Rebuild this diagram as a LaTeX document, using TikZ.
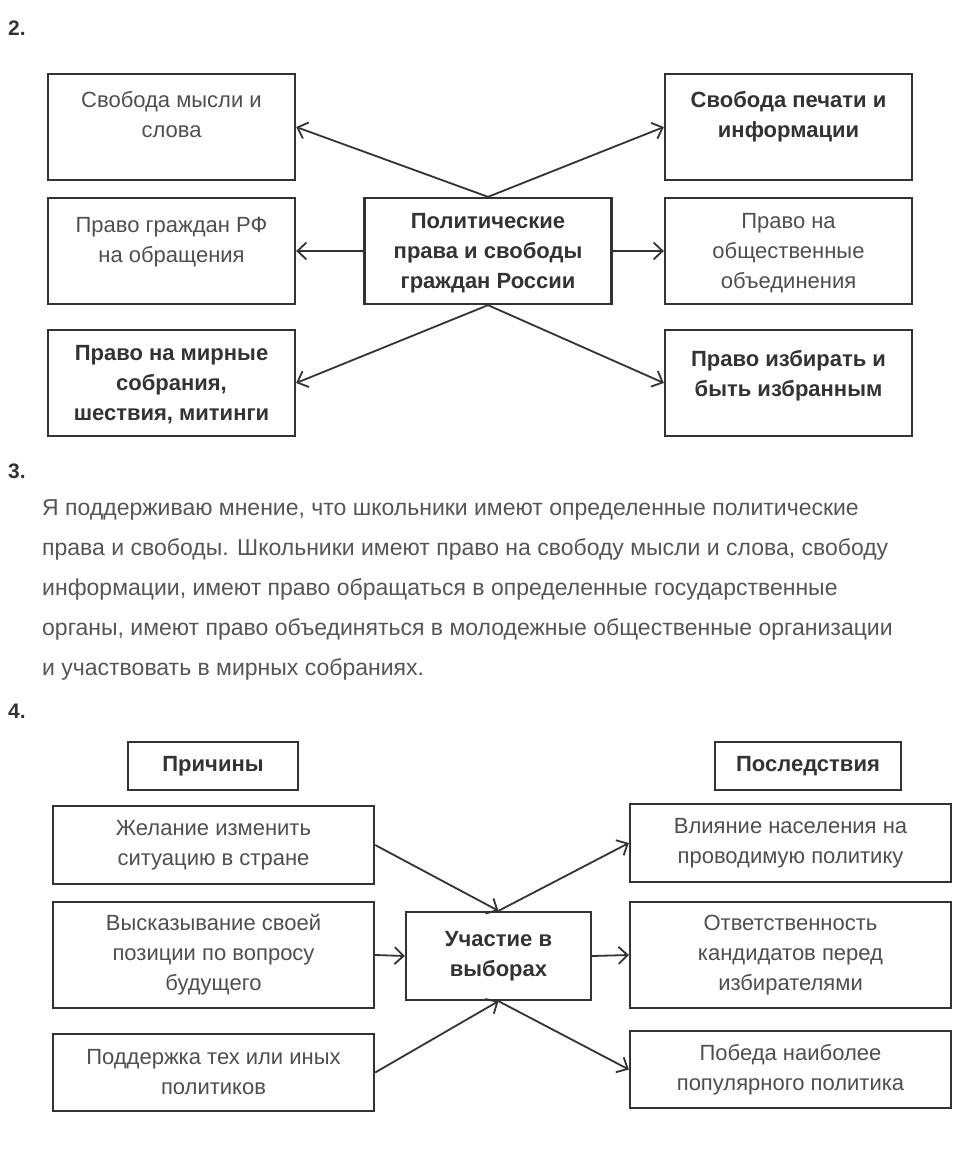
\documentclass[tikz,border=0pt]{standalone}
\usepackage{fontspec}
\setmainfont{Liberation Sans}
\usepackage{xcolor}
\usetikzlibrary{arrows.meta}
\definecolor{ink}{HTML}{333333}
\definecolor{lite}{HTML}{4E4E4E}
\definecolor{txt}{HTML}{555555}
\newcommand{\toptext}[2][34pt]{\parbox[c][106pt][t]{240pt}{\centering\rule{0pt}{#1}#2}}

\begin{document}
\begin{tikzpicture}[x=1pt,y=-1pt,
  every node/.style={align=center,font=\fontsize{22}{30}\selectfont},
  box/.style={draw=ink,line width=2.3pt,inner sep=0pt},
  big/.style={box,minimum width=247pt,minimum height=106pt},
  wide/.style={box,minimum width=321pt},
  hard/.style={text=ink,font=\fontsize{22}{30}\selectfont\bfseries},
  soft/.style={text=lite},
  num/.style={anchor=base west,inner sep=0pt,text=ink,font=\fontsize{21}{24}\selectfont\bfseries},
  arr/.style={draw=ink,line width=1.8pt,-{Straight Barb[length=9pt,width=17pt]}}]
  \useasboundingbox (0,0) rectangle (959,1169);

  % 2. political rights
  \node[num] (n2) at (8,36) {2.};
  \node[big,soft] (mysl) at (171.5,127) {\toptext{Свобода мысли и\\слова}};
  \node[big,hard] (pech) at (788.5,127) {\toptext{Свобода печати и\\информации}};
  \node[big,hard] (pol) at (488,251) {\toptext[30pt]{Политические\\права и свободы\\граждан России}};
  \node[big,soft] (obr) at (171.5,251) {\toptext{Право граждан РФ\\на обращения}};
  \node[big,soft] (obsh) at (788.5,251) {\toptext[30pt]{Право на\\общественные\\объединения}};
  \node[big,hard] (mir) at (171.5,383) {\toptext[30pt]{Право на мирные\\собрания,\\шествия, митинги}};
  \node[big,hard] (izb) at (788.5,383) {\toptext[36pt]{Право избирать и\\быть избранным}};
  \draw[arr] (pol.north) -- (mysl.east);
  \draw[arr] (pol.north) -- (pech.west);
  \draw[arr] (pol.west) -- (obr.east);
  \draw[arr] (pol.east) -- (obsh.west);
  \draw[arr] (pol.south) -- (mir.east);
  \draw[arr] (pol.south) -- (izb.west);

  % 3. answer text
  \node[num] (n3) at (8,478) {3.};
  \node[anchor=north west,align=left,inner sep=0pt,text=txt,
        font=\fontsize{23}{40}\selectfont] (otvet) at (42,499) {%
    Я поддерживаю мнение, что школьники имеют определенные политические\\
    права и свободы. Школьники имеют право на свободу мысли и слова, свободу\\
    информации, имеют право обращаться в определенные государственные\\
    органы, имеют право объединяться в молодежные общественные организации\\
    и участвовать в мирных собраниях.};

  % 4. elections
  \node[num] (n4) at (8,718) {4.};
  \node[box,hard,minimum width=170pt,minimum height=48pt] (prich) at (213,766) {Причины};
  \node[box,hard,minimum width=186pt,minimum height=48pt] (posl) at (808,766) {Последствия};
  \node[wide,soft,minimum height=78pt] (zhel) at (213.5,845) {Желание изменить\\ситуацию в стране};
  \node[wide,soft,minimum height=106pt] (vysk) at (213.5,955) {Высказывание своей\\позиции по вопросу\\будущего};
  \node[wide,soft,minimum height=77pt] (podd) at (213.5,1072.5) {Поддержка тех или иных\\политиков};
  \node[box,hard,minimum width=185pt,minimum height=88pt] (vyb) at (498.5,956) {Участие в\\выборах};
  \node[wide,soft,minimum height=78pt] (vliy) at (790.5,843) {Влияние населения на\\проводимую политику};
  \node[wide,soft,minimum height=106pt] (otv) at (790.5,955) {Ответственность\\кандидатов перед\\избирателями};
  \node[wide,soft,minimum height=77pt] (pob) at (790.5,1069.5) {Победа наиболее\\популярного политика};
  \draw[arr] (zhel.east) -- (vyb.north);
  \draw[arr] (vysk.east) -- (vyb.west);
  \draw[arr] (podd.east) -- (vyb.south);
  \draw[arr] (vyb.north) -- (vliy.west);
  \draw[arr] (vyb.east) -- (otv.west);
  \draw[arr] (vyb.south) -- (pob.west);
\end{tikzpicture}
\end{document}
